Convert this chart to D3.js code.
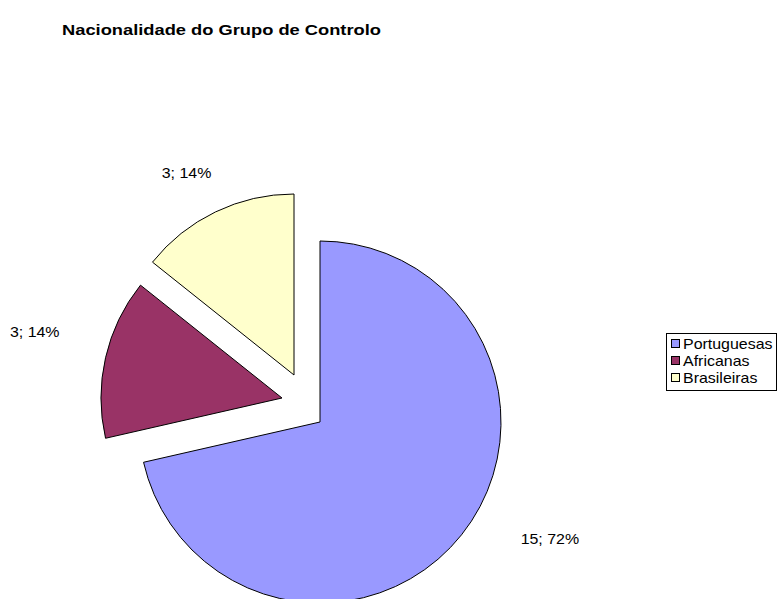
<!DOCTYPE html>
<html>
<head>
<meta charset="utf-8">
<script src="https://cdn.jsdelivr.net/npm/d3@7"></script>
<style>
  html, body { margin: 0; padding: 0; background: #fff; }
  svg { display: block; }
  text { font-family: "Liberation Sans", Arial, sans-serif; }
</style>
</head>
<body>
<svg id="chart" width="778" height="599"></svg>
<script>
// ---- data ----
const categories = ["Portuguesas", "Africanas", "Brasileiras"];
const values = [15, 3, 3];
const percentLabels = ["72%", "14%", "14%"];
const title = "Nacionalidade do Grupo de Controlo";

// ---- style / layout ----
const colors = ["#9999FF", "#993366", "#FFFFCC"];
const center = [320, 422];
const radius = 181;
const sliceOffsets = [[0, 0], [-38, -24], [-26, -47]];      // explode offsets
const labelPolar = [[117, 258], [285, 256], [332, 229]];      // deg clockwise from top, distance
const textStretch = 1.14;

const svg = d3.select("#chart");

svg.append("text")
  .attr("transform", "translate(62,35) scale(1.22,1)")
  .attr("font-size", 15).attr("font-weight", "bold")
  .attr("fill", "#000")
  .text(title);

const pie = d3.pie().sort(null).value(d => d)(values);
const arc = d3.arc().innerRadius(0).outerRadius(radius);
const color = d3.scaleOrdinal().domain(categories).range(colors);

const g = svg.append("g").attr("transform", `translate(${center[0]},${center[1]})`);

const slices = g.selectAll("g.slice").data(pie).enter().append("g")
  .attr("class", "slice")
  .attr("transform", (d, i) => `translate(${sliceOffsets[i][0]},${sliceOffsets[i][1]})`);

slices.append("path")
  .attr("d", arc)
  .attr("fill", (d, i) => color(categories[i]))
  .attr("stroke", "#000")
  .attr("stroke-width", 1);

slices.append("text")
  .attr("transform", (d, i) => {
    const a = labelPolar[i][0] * Math.PI / 180, r = labelPolar[i][1];
    return `translate(${Math.sin(a) * r},${-Math.cos(a) * r}) scale(${textStretch},1)`;
  })
  .attr("text-anchor", "middle")
  .attr("dominant-baseline", "central")
  .attr("font-size", 14)
  .attr("fill", "#000")
  .text((d, i) => `${values[i]}; ${percentLabels[i]}`);

// ---- legend ----
const legend = svg.append("g").attr("transform", "translate(666,333)");
legend.append("rect")
  .attr("x", 0.5).attr("y", 0.5).attr("width", 110).attr("height", 57)
  .attr("fill", "#fff").attr("stroke", "#000").attr("stroke-width", 1);

const rowY = d3.scalePoint().domain(categories).range([11, 45]);
const items = legend.selectAll("g.item").data(categories).enter().append("g")
  .attr("class", "item")
  .attr("transform", d => `translate(0,${rowY(d)})`);
items.append("rect")
  .attr("x", 5.5).attr("y", -4.5).attr("width", 8).attr("height", 8)
  .attr("fill", d => color(d)).attr("stroke", "#000").attr("stroke-width", 1);
items.append("text")
  .attr("transform", `translate(17,0) scale(${textStretch},1)`)
  .attr("dominant-baseline", "central")
  .attr("font-size", 14)
  .attr("fill", "#000")
  .text(d => d);
</script>
</body>
</html>
